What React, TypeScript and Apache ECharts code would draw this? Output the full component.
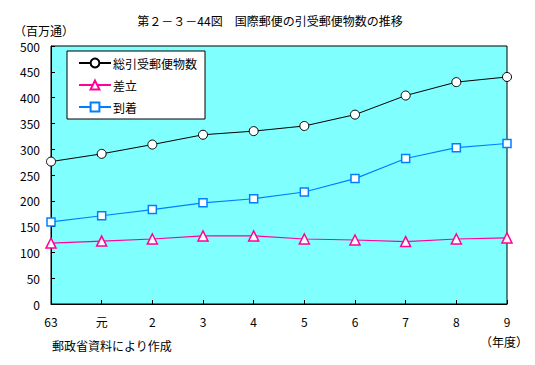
import React, { useEffect, useRef } from "react";
import * as echarts from "echarts";

const categories = ["63", "元", "2", "3", "4", "5", "6", "7", "8", "9"];
const totalValues = [276, 291, 309, 328, 335, 345, 367, 404, 430, 440];
const sentValues = [118, 122, 126, 132, 132, 126, 124, 121, 126, 128];
const arrivedValues = [159, 171, 183, 196, 204, 217, 243, 282, 303, 311];
const seriesNames = ["総引受郵便物数", "差立", "到着"];

const FONT = "'Noto Sans CJK JP', sans-serif";

export default function App() {
  const ref = useRef<HTMLDivElement>(null);
  useEffect(() => {
    if (!ref.current) return;
    document.body.style.margin = "0";
    const chart = echarts.init(ref.current, null, { renderer: "svg" });
    const textStyle = { fontFamily: FONT, fontSize: 12, color: "#000" };
    chart.setOption({
      animation: false,
      backgroundColor: "#fff",
      textStyle,
      title: {
        text: "第２－３－44図　国際郵便の引受郵便物数の推移",
        left: 265,
        top: 9,
        textAlign: "center",
        textStyle: { fontFamily: FONT, fontSize: 12, fontWeight: "normal", color: "#000" },
      },
      grid: {
        left: 51,
        right: 28,
        top: 46,
        bottom: 61,
        show: true,
        backgroundColor: "#80ffff",
        borderColor: "#000",
        borderWidth: 1,
      },
      legend: {
        orient: "vertical",
        left: 67,
        top: 51,
        data: seriesNames,
        backgroundColor: "#fff",
        borderColor: "#000",
        borderWidth: 1,
        padding: [6, 8, 6, 11],
        itemWidth: 32,
        itemHeight: 11,
        itemGap: 10,
        textStyle: { fontFamily: FONT, fontSize: 12, color: "#000", padding: [0, 0, 0, -3] },
      },
      xAxis: {
        type: "category",
        data: categories,
        boundaryGap: false,
        axisLine: { lineStyle: { color: "#000", width: 1 } },
        axisTick: { inside: true, length: 4, lineStyle: { color: "#000" } },
        axisLabel: { fontFamily: FONT, fontSize: 12, color: "#000", margin: 11 },
        splitLine: { show: false },
      },
      yAxis: {
        type: "value",
        min: 0,
        max: 500,
        interval: 50,
        axisLine: { show: true, lineStyle: { color: "#000", width: 1 } },
        axisTick: { show: true, inside: true, length: 4, lineStyle: { color: "#000" } },
        axisLabel: { fontFamily: FONT, fontSize: 12, color: "#000", margin: 11 },
        splitLine: { show: false },
      },
      graphic: [
        { type: "text", left: 14, top: 24, style: { text: "（百万通）", font: "12px " + FONT, fill: "#000" } },
        { type: "text", left: 480, top: 335, style: { text: "（年度）", font: "12px " + FONT, fill: "#000" } },
        { type: "text", left: 52, top: 339, style: { text: "郵政省資料により作成", font: "12px " + FONT, fill: "#000" } },
      ],
      series: [
        {
          name: seriesNames[0],
          type: "line",
          data: totalValues,
          symbol: "circle",
          symbolSize: 9,
          lineStyle: { color: "#000", width: 1 },
          itemStyle: { color: "#fff", borderColor: "#000", borderWidth: 1 },
          z: 4,
        },
        {
          name: seriesNames[1],
          type: "line",
          data: sentValues,
          symbol: "triangle",
          symbolSize: 10,
          lineStyle: { color: "#ff0099", width: 1.2 },
          itemStyle: { color: "#fff", borderColor: "#ff0099", borderWidth: 1.5 },
          z: 3,
        },
        {
          name: seriesNames[2],
          type: "line",
          data: arrivedValues,
          symbol: "rect",
          symbolSize: 8,
          lineStyle: { color: "#0080ff", width: 1.2 },
          itemStyle: { color: "#fff", borderColor: "#0080ff", borderWidth: 1.5 },
          z: 3,
        },
      ],
    });
    return () => chart.dispose();
  }, []);
  return <div ref={ref} style={{ width: 535, height: 365 }} />;
}
